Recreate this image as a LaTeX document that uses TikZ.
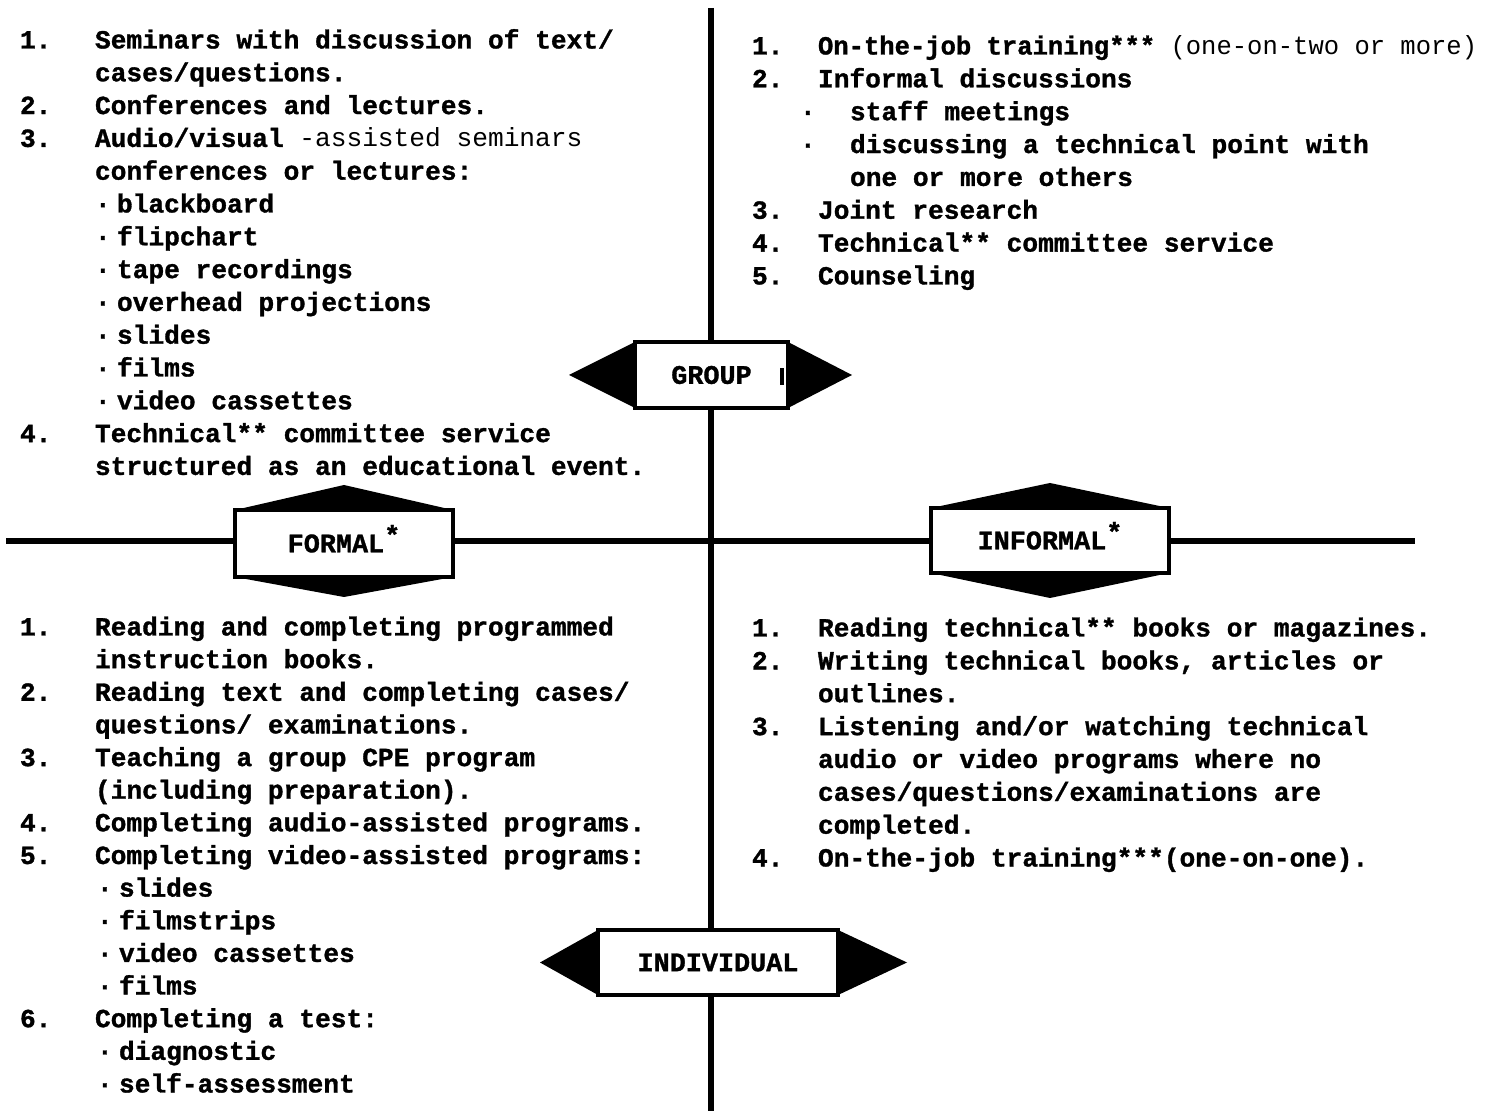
\documentclass[tikz,border=0pt]{standalone}
\usepackage{fontspec}
\usepackage{graphicx}
\usetikzlibrary{calc}
\newfontfamily\twfont{Liberation Mono}[BoldFeatures={FakeBold=1.2}]
\tikzset{
  txt/.style={anchor=base west, inner sep=0pt, outer sep=0pt,
    font=\twfont\bfseries\fontsize{13.1pt}{16pt}\selectfont},
  lbox/.style={draw, line width=2pt, fill=white, inner sep=0pt, outer sep=0pt,
    font=\twfont\bfseries\fontsize{13.4pt}{16pt}\selectfont},
  axisline/.style={line width=3pt},
  tri/.style={fill=black}
}
\newcommand\rg[1]{{\mdseries #1}}
\newcommand\upstar{\smash{\raisebox{4pt}{*}}}
\begin{document}
\begin{tikzpicture}[x=0.5pt,y=-0.5pt]
\useasboundingbox (0,0) rectangle (1494,1111);
% axes
\coordinate (vtop) at (711,8);
\coordinate (vbot) at (711,1111);
\coordinate (hl) at (6,541);
\coordinate (hr) at (1415,541);
\draw[axisline] (vtop) -- (vbot);
\draw[axisline] (hl) -- (hr);
% label boxes
\node[lbox, minimum width=76.5pt, minimum height=33pt] (grp) at (711.5,375) {GROUP\hspace{4pt}};
\node[lbox, minimum width=109pt, minimum height=33.5pt] (frm) at (344,543.5) {FORMAL\upstar};
\node[lbox, minimum width=119pt, minimum height=32.5pt] (inf) at (1050,540.5) {INFORMAL\upstar};
\node[lbox, minimum width=120pt, minimum height=32.5pt] (ind) at (718,962.5) {INDIVIDUAL};
% black triangles
\fill[tri] (grp.north west) -- ($(grp.west)+(-66,0)$) -- (grp.south west) -- cycle;
\fill[tri] (grp.north east) -- ($(grp.east)+(64,0)$) -- (grp.south east) -- cycle;
\fill[tri] (frm.north west) -- ($(frm.north)+(0,-25)$) -- (frm.north east) -- cycle;
\fill[tri] (frm.south west) -- ($(frm.south)+(0,20)$) -- (frm.south east) -- cycle;
\fill[tri] (inf.north west) -- ($(inf.north)+(0,-25)$) -- (inf.north east) -- cycle;
\fill[tri] (inf.south west) -- ($(inf.south)+(0,25)$) -- (inf.south east) -- cycle;
\fill[tri] (ind.north west) -- ($(ind.west)+(-58,0)$) -- (ind.south west) -- cycle;
\fill[tri] (ind.north east) -- ($(ind.east)+(69,0)$) -- (ind.south east) -- cycle;
\fill (780,368) rectangle (784,385);
% ---- top left ----
\node[txt] (tl1n) at (20,48.5) {1.};
\node[txt] (tl1) at (95,48.5) {Seminars with discussion of text/};
\node[txt] (tl1b) at (95,81.3) {cases/questions.};
\node[txt] (tl2n) at (20,114.1) {2.};
\node[txt] (tl2) at (95,114.1) {Conferences and lectures.};
\node[txt] (tl3n) at (20,146.9) {3.};
\node[txt] (tl3) at (95,146.9) {Audio/visual\rg{ -assisted seminars}};
\node[txt] (tl3b) at (95,179.7) {conferences or lectures:};
\node[txt] (tlb1d) at (95,212.5) {·};
\node[txt] (tlb1) at (117,212.5) {blackboard};
\node[txt] (tlb2d) at (95,245.3) {·};
\node[txt] (tlb2) at (117,245.3) {flipchart};
\node[txt] (tlb3d) at (95,278.1) {·};
\node[txt] (tlb3) at (117,278.1) {tape recordings};
\node[txt] (tlb4d) at (95,310.9) {·};
\node[txt] (tlb4) at (117,310.9) {overhead projections};
\node[txt] (tlb5d) at (95,343.7) {·};
\node[txt] (tlb5) at (117,343.7) {slides};
\node[txt] (tlb6d) at (95,376.5) {·};
\node[txt] (tlb6) at (117,376.5) {films};
\node[txt] (tlb7d) at (95,409.3) {·};
\node[txt] (tlb7) at (117,409.3) {video cassettes};
\node[txt] (tl4n) at (20,442.1) {4.};
\node[txt] (tl4) at (95,442.1) {Technical** committee service};
\node[txt] (tl4b) at (95,474.9) {structured as an educational event.};
% ---- top right ----
\node[txt] (tr1n) at (752,54.5) {1.};
\node[txt] (tr1) at (818,54.5) {\scalebox{0.975}[1]{On-the-job training***\rg{ (one-on-two or more)}}};
\node[txt] (tr2n) at (752,87.35) {2.};
\node[txt] (tr2) at (818,87.35) {Informal discussions};
\node[txt] (trb1d) at (800,120.2) {·};
\node[txt] (trb1) at (850,120.2) {staff meetings};
\node[txt] (trb2d) at (800,153.05) {·};
\node[txt] (trb2) at (850,153.05) {discussing a technical point with};
\node[txt] (trb2b) at (850,185.9) {one or more others};
\node[txt] (tr3n) at (752,218.75) {3.};
\node[txt] (tr3) at (818,218.75) {Joint research};
\node[txt] (tr4n) at (752,251.6) {4.};
\node[txt] (tr4) at (818,251.6) {Technical** committee service};
\node[txt] (tr5n) at (752,284.45) {5.};
\node[txt] (tr5) at (818,284.45) {Counseling};
% ---- bottom left ----
\node[txt] (bl1n) at (20,635.5) {1.};
\node[txt] (bl1) at (95,635.5) {Reading and completing programmed};
\node[txt] (bl1b) at (95,668.1) {instruction books.};
\node[txt] (bl2n) at (20,700.8) {2.};
\node[txt] (bl2) at (95,700.8) {Reading text and completing cases/};
\node[txt] (bl2b) at (95,733.4) {questions/ examinations.};
\node[txt] (bl3n) at (20,766.1) {3.};
\node[txt] (bl3) at (95,766.1) {Teaching a group CPE program};
\node[txt] (bl3b) at (95,798.7) {(including preparation).};
\node[txt] (bl4n) at (20,831.3) {4.};
\node[txt] (bl4) at (95,831.3) {Completing audio-assisted programs.};
\node[txt] (bl5n) at (20,864.0) {5.};
\node[txt] (bl5) at (95,864.0) {Completing video-assisted programs:};
\node[txt] (blb1d) at (97,896.6) {·};
\node[txt] (blb1) at (119,896.6) {slides};
\node[txt] (blb2d) at (97,929.3) {·};
\node[txt] (blb2) at (119,929.3) {filmstrips};
\node[txt] (blb3d) at (97,961.9) {·};
\node[txt] (blb3) at (119,961.9) {video cassettes};
\node[txt] (blb4d) at (97,994.5) {·};
\node[txt] (blb4) at (119,994.5) {films};
\node[txt] (bl6n) at (20,1027.2) {6.};
\node[txt] (bl6) at (95,1027.2) {Completing a test:};
\node[txt] (blb5d) at (97,1059.8) {·};
\node[txt] (blb5) at (119,1059.8) {diagnostic};
\node[txt] (blb6d) at (97,1092.5) {·};
\node[txt] (blb6) at (119,1092.5) {self-assessment};
% ---- bottom right ----
\node[txt] (br1n) at (752,636.5) {1.};
\node[txt] (br1) at (818,636.5) {Reading technical** books or magazines.};
\node[txt] (br2n) at (752,669.4) {2.};
\node[txt] (br2) at (818,669.4) {Writing technical books, articles or};
\node[txt] (br2b) at (818,702.2) {outlines.};
\node[txt] (br3n) at (752,735.1) {3.};
\node[txt] (br3) at (818,735.1) {Listening and/or watching technical};
\node[txt] (br3b) at (818,767.9) {audio or video programs where no};
\node[txt] (br3c) at (818,800.8) {cases/questions/examinations are};
\node[txt] (br3d) at (818,833.7) {completed.};
\node[txt] (br4n) at (752,866.5) {4.};
\node[txt] (br4) at (818,866.5) {On-the-job training***(one-on-one).};
\end{tikzpicture}
\end{document}
